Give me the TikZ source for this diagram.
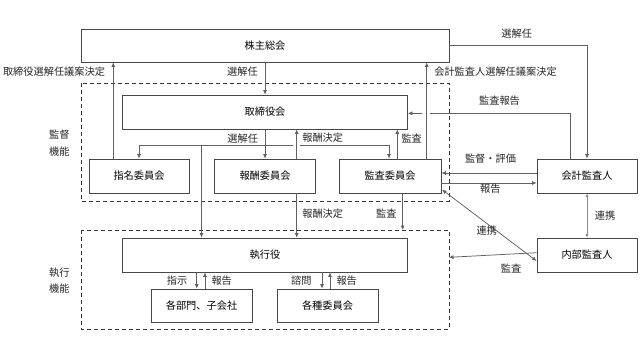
\documentclass[tikz,border=0pt]{standalone}
\usepackage{fontspec}
\setmainfont{Noto Sans CJK JP}
\usetikzlibrary{arrows.meta}
\begin{document}
\begin{tikzpicture}[x=1pt,y=-1pt,
  font=\fontsize{10.2}{12}\selectfont,
  box/.style={draw=black!72, line width=0.75pt, fill=white, inner sep=0pt, minimum height=34pt},
  area/.style={draw=black!80, line width=0.8pt, dash pattern=on 4pt off 3pt},
  conn/.style={draw=black!62, line width=0.75pt, -{Latex[length=4.5pt,width=4pt]}},
  line/.style={draw=black!62, line width=0.75pt},
  both/.style={draw=black!62, line width=0.75pt, {Latex[length=4.5pt,width=4pt]}-{Latex[length=4.5pt,width=4pt]}},
  lite/.style={draw=black!45, line width=0.75pt, {Latex[length=3.5pt,width=3pt]}-{Latex[length=3.5pt,width=3pt]}},
  lbl/.style={inner sep=0pt, text=black!85}
]
\useasboundingbox (0,0) rectangle (640,360);
\fill[white] (0,0) rectangle (640,360);

% dashed areas
\draw[area] (81,83) rectangle (449,201);
\draw[area] (81,230) rectangle (449,329);
\coordinate (supR) at (449,201);
\coordinate (exeTop) at (402.7,230);
\coordinate (exeR) at (449,257.3);

% boxes
\node[box, minimum width=368pt, minimum height=33pt] (s) at (265,45.5) {株主総会};
\node[box, minimum width=285pt] (tb) at (265,112) {取締役会};
\node[box, minimum width=100pt] (nom) at (139,176) {指名委員会};
\node[box, minimum width=101pt] (rem) at (265,176) {報酬委員会};
\node[box, minimum width=102pt] (aud) at (390,176) {監査委員会};
\node[box, minimum width=100pt] (ext) at (587,176) {会計監査人};
\node[box, minimum width=100pt] (ia) at (587,255) {内部監査人};
\node[box, minimum width=285pt] (exe) at (265,255) {執行役};
\node[box, minimum width=101pt, minimum height=33pt] (dept) at (201.5,305.5) {各部門、子会社};
\node[box, minimum width=101pt, minimum height=33pt] (com) at (327.5,305.5) {各種委員会};

% side labels
\node[lbl] (l1) at (59.3,135) {監督};
\node[lbl] (l2) at (59.3,152) {機能};
\node[lbl] (l3) at (59.3,273) {執行};
\node[lbl] (l4) at (59.3,289) {機能};

% shareholders -> board
\draw[conn] (s) -- (tb);
\node[lbl, anchor=east] (t1) at (258,72) {選解任};
% nomination -> shareholders
\draw[conn] ([xshift=-25.7pt]nom.north) -- ([xshift=-25.7pt]nom.north |- s.south);
\node[lbl] (t2) at (54,72) {取締役選解任議案決定};
% audit committee -> shareholders (auditor proposal)
\draw[conn] ([xshift=36.7pt]aud.north) -- ([xshift=36.7pt]aud.north |- s.south);
\node[lbl] (t3) at (495.5,72) {会計監査人選解任議案決定};
% shareholders -> external auditor
\draw[conn] ([yshift=0.5pt]s.east) -| (ext.north);
\node[lbl] (t4) at (516.7,33.3) {選解任};

% board -> committees (選解任)
\coordinate (h1) at (139,145);
\coordinate (h2) at (293,145);
\coordinate (h3) at (300,145);
\coordinate (h4) at (389,145);
\coordinate (h5) at (201.5,145);
\draw[conn] (tb) -- (rem);
\draw[conn] (h2) -- (h1) -- (nom.north);
\draw[conn] (h3) -- (h4) -- (h4 |- aud.north);
\draw[conn] (h5) -- (h5 |- exe.north);
\node[lbl] (t5) at (242.7,138.3) {選解任};

% remuneration
\draw[conn] ([xshift=31.7pt]rem.north) -- ([xshift=31.7pt]rem.north |- tb.south);
\draw[conn] ([xshift=31.7pt]rem.south) -- ([xshift=31.7pt]rem.south |- exe.north);
\node[lbl] (t6) at (322.7,138) {報酬決定};
\node[lbl] (t7) at (322.7,214) {報酬決定};

% audit committee audits
\draw[conn] ([xshift=7.3pt]aud.north) -- ([xshift=7.3pt]aud.north |- tb.south);
\node[lbl] (t8) at (411.7,139) {監査};
\draw[conn] ([xshift=12.7pt]aud.south) -- (exeTop);
\node[lbl] (t9) at (386.3,214) {監査};

% external auditor audit report
\coordinate (r1) at (570,113.3);
\coordinate (r2) at (430,113.3);
\coordinate (r3) at (421.7,113.3);
\draw[line] ([xshift=-17pt]ext.north) -- (r1) -- (r2);
\draw[conn] (r3) -- (r3 -| tb.east);
\node[lbl] (t10) at (499.5,100.7) {監査報告};

% supervision / report
\draw[conn] ([yshift=-7pt]aud.east) -- ([yshift=-7pt]ext.west);
\node[lbl] (t11) at (490.5,158.3) {監督・評価};
\draw[conn] ([yshift=3pt]ext.west) -- ([yshift=3pt]aud.east);
\node[lbl] (t12) at (490.3,189) {報告};

% cooperation
\draw[lite] (ext.south) -- (ia.north);
\node[lbl] (t13) at (605,216) {連携};
\draw[both] ([xshift=0.7pt,yshift=3.7pt]aud.south east) -- ([yshift=-6pt]ia.west);
\node[lbl] (t14) at (486.7,231) {連携};

% internal audit -> execution
\draw[conn] ([yshift=2.3pt]ia.west) -- (exeR);
\node[lbl] (t15) at (511,268.3) {監査};

% execution -> departments / committees
\draw[conn] ([xshift=-4.8pt]dept.north |- exe.south) -- ([xshift=-4.8pt]dept.north);
\draw[conn] ([xshift=3.5pt]dept.north) -- ([xshift=3.5pt]dept.north |- exe.south);
\node[lbl] (t16) at (177,281) {指示};
\node[lbl] (t17) at (221.7,281) {報告};
\draw[conn] ([xshift=-5.5pt]com.north |- exe.south) -- ([xshift=-5.5pt]com.north);
\draw[conn] ([xshift=2.5pt]com.north) -- ([xshift=2.5pt]com.north |- exe.south);
\node[lbl] (t18) at (301.3,281) {諮問};
\node[lbl] (t19) at (346.7,281) {報告};
\end{tikzpicture}
\end{document}
